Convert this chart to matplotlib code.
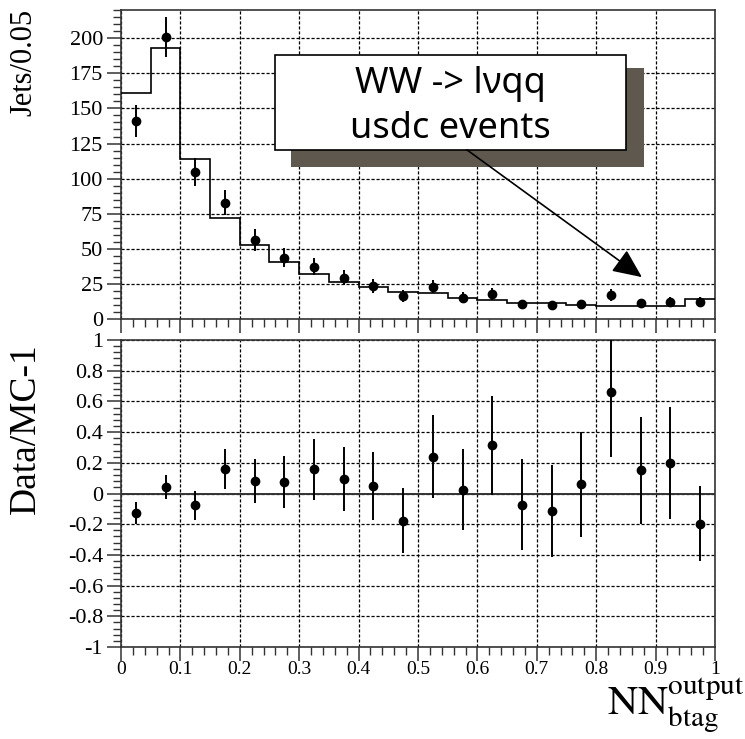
import numpy as np
import matplotlib
matplotlib.use('Agg')
from matplotlib import pyplot as plt
from matplotlib.patches import Rectangle
from matplotlib.ticker import MultipleLocator

plt.rcParams['axes.unicode_minus'] = False
plt.rcParams['mathtext.fontset'] = 'stix'

# Binning of the NN b-tag output (20 bins of 0.05)
bin_edges = np.linspace(0, 1, 21)
bin_centers = 0.5 * (bin_edges[:-1] + bin_edges[1:])

# Upper panel: jets per bin, data and MC
data_jets = [141, 200.7, 104.6, 83, 56.4, 43.8, 37.4, 29.6, 23.7, 16.8,
             23.2, 15.4, 17.8, 10.7, 10.0, 10.7, 17.3, 11.4, 12.1, 12.5]
data_jets_err = [11.5, 14, 10, 9, 7.6, 6.8, 6.2, 5.5, 4.9, 4.2,
                 4.8, 4.0, 4.3, 3.3, 3.2, 3.3, 4.2, 3.4, 3.5, 3.5]
mc_jets = [161, 193, 114.3, 72, 52.6, 40.8, 32.2, 26.5, 22.8, 19.6,
           18.5, 15.0, 13.7, 11.4, 11.4, 10.2, 9.7, 9.7, 9.7, 14.2]

# Lower panel: Data/MC - 1
ratio = [-0.126, 0.041, -0.078, 0.161, 0.083, 0.076, 0.157, 0.096, 0.048, -0.176,
         0.239, 0.026, 0.313, -0.072, -0.115, 0.059, 0.661, 0.15, 0.196, -0.196]
ratio_err = [0.07, 0.08, 0.095, 0.13, 0.143, 0.17, 0.2, 0.21, 0.22, 0.21,
             0.27, 0.266, 0.32, 0.295, 0.3, 0.34, 0.42, 0.35, 0.365, 0.245]

x_ticks = [0, 0.1, 0.2, 0.3, 0.4, 0.5, 0.6, 0.7, 0.8, 0.9, 1]
x_tick_labels = ['0', '0.1', '0.2', '0.3', '0.4', '0.5', '0.6', '0.7', '0.8', '0.9', '1']
y_ticks_top = [0, 25, 50, 75, 100, 125, 150, 175, 200]
y_ticks_bot = [-1, -0.8, -0.6, -0.4, -0.2, 0, 0.2, 0.4, 0.6, 0.8, 1]
y_tick_labels_bot = ['-1', '-0.8', '-0.6', '-0.4', '-0.2', '0', '0.2', '0.4', '0.6', '0.8', '1']

serif = 'Liberation Serif'
frame_col = '#333333'
grid_kw = dict(color='black', linestyle=(0, (2.5, 1.5)), linewidth=0.9)

fig = plt.figure(figsize=(7.45, 7.39), dpi=100)
ax1 = fig.add_axes([0.1624, 0.5679, 0.7973, 0.4186])
ax2 = fig.add_axes([0.1624, 0.1245, 0.7973, 0.4154])

for ax in (ax1, ax2):
    ax.set_xlim(0, 1)
    for sp in ax.spines.values():
        sp.set_color(frame_col)
        sp.set_linewidth(1.2)
    ax.xaxis.set_minor_locator(MultipleLocator(0.02))
    ax.tick_params(which='major', direction='out', length=10, width=1.1, color=frame_col)
    ax.tick_params(which='minor', direction='out', length=6, width=1.0, color=frame_col)
    ax.tick_params(top=False, right=False)
    ax.set_xticks(x_ticks)
    ax.grid(True, which='major', **grid_kw)
    ax.set_axisbelow(True)

# upper panel
ax1.set_ylim(0, 220)
ax1.set_yticks(y_ticks_top)
ax1.yaxis.set_minor_locator(MultipleLocator(5))
ax1.set_xticklabels([])
for lab in ax1.get_yticklabels():
    lab.set_fontfamily(serif)
    lab.set_fontsize(16)
ax1.tick_params(axis='y', pad=3)
ax1.stairs(mc_jets, bin_edges, color='black', linewidth=1.2, baseline=None, zorder=3)
ax1.errorbar(bin_centers, data_jets, yerr=data_jets_err, fmt='o', color='black',
             markersize=6, elinewidth=1.4, capsize=0, zorder=4)

# text box with shadow
ax1.add_patch(Rectangle((0.2862, 108.4), 0.5943, 70.5, facecolor='#5e584f',
                        edgecolor='none', zorder=5))
ax1.add_patch(Rectangle((0.259, 120.5), 0.591, 67.5, facecolor='white',
                        edgecolor='black', linewidth=1.2, zorder=6))
ax1.text(0.554, 161, 'WW -> lνqq', ha='center', va='baseline', fontsize=26,
         family='Noto Sans', zorder=7)
ax1.text(0.554, 129, 'usdc events', ha='center', va='baseline', fontsize=26,
         family='Noto Sans', zorder=7)
ax1.annotate('', xy=(0.877, 30), xytext=(0.5825, 120.5),
             arrowprops=dict(arrowstyle='-|>,head_length=0.6,head_width=0.27',
                             mutation_scale=30, color='black', lw=1.2,
                             shrinkA=0, shrinkB=0), zorder=7)

# lower panel
ax2.set_ylim(-1, 1)
ax2.set_yticks(y_ticks_bot)
ax2.set_yticklabels(y_tick_labels_bot, fontfamily=serif, fontsize=16)
ax2.yaxis.set_minor_locator(MultipleLocator(0.04))
ax2.set_xticklabels(x_tick_labels, fontfamily=serif, fontsize=14)
ax2.tick_params(axis='x', pad=0)
ax2.tick_params(axis='y', pad=3)
ax2.axhline(0, color=frame_col, linewidth=1.4, zorder=3)
ax2.errorbar(bin_centers, ratio, yerr=ratio_err, fmt='o', color='black',
             markersize=6, elinewidth=1.4, capsize=0, zorder=4, clip_on=True)

# axis labels
fig.text(24 / 745, 1 - 62 / 739, 'Jets/0.05', rotation=90, ha='center', va='center',
         fontsize=22, family=serif)
fig.text(26 / 745, 1 - 429 / 739, 'Data/MC-1', rotation=90, ha='center', va='center',
         fontsize=27, family=serif)
fig.text(607 / 745, 1 - 716 / 739, r'$\mathrm{NN}_{\mathrm{btag}}^{\mathrm{output}}$',
         ha='left', va='baseline', fontsize=30)

fig.savefig('out.png', dpi=100)
